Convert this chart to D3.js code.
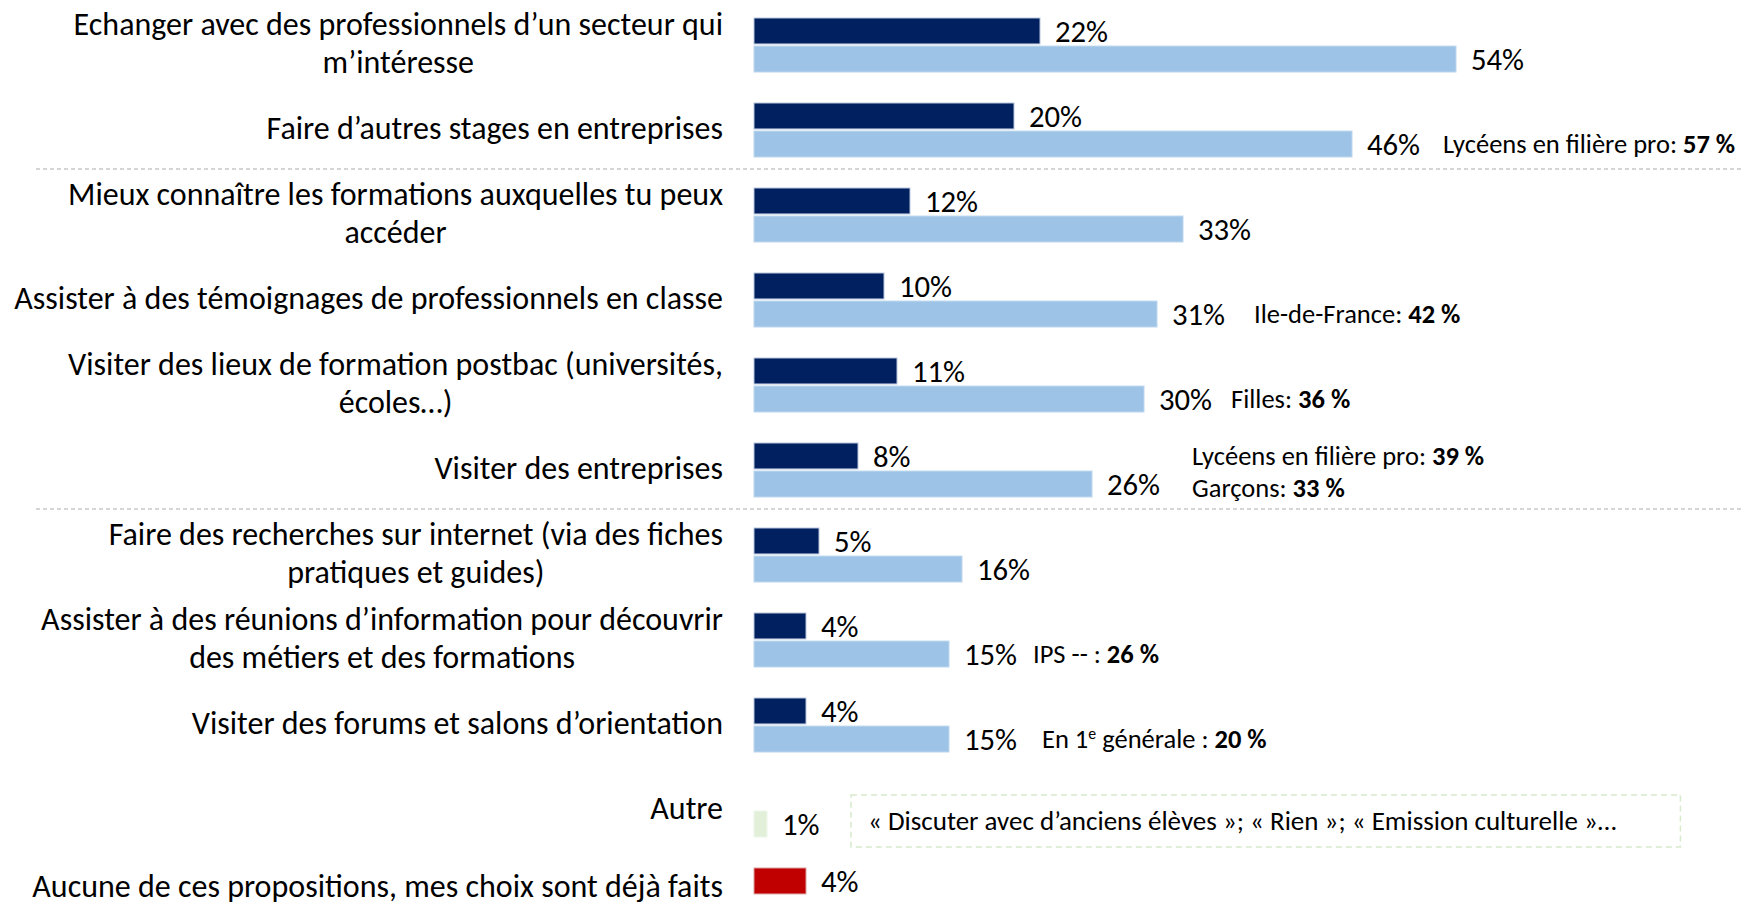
<!DOCTYPE html>
<html><head><meta charset="utf-8">
<script src="https://cdn.jsdelivr.net/npm/d3@7"></script>
<style>html,body{margin:0;padding:0;background:#fff;overflow:hidden}</style>
</head><body>
<svg id="chart" width="1742" height="907"></svg>
<script>
// ---------------- data ----------------
const categories = [
  "Echanger avec des professionnels d’un secteur qui\nm’intéresse",
  "Faire d’autres stages en entreprises",
  "Mieux connaître les formations auxquelles tu peux\naccéder",
  "Assister à des témoignages de professionnels en classe",
  "Visiter des lieux de formation postbac (universités,\nécoles…)",
  "Visiter des entreprises",
  "Faire des recherches sur internet (via des fiches\npratiques et guides)",
  "Assister à des réunions d’information pour découvrir\ndes métiers et des formations",
  "Visiter des forums et salons d’orientation",
  "Autre",
  "Aucune de ces propositions, mes choix sont déjà faits"
];
const firstChoice = [22, 20, 12, 10, 11, 8, 5, 4, 4, null, 4];
const allChoices  = [54, 46, 33, 31, 30, 26, 16, 15, 15, 1, null];
const separatorsAfter = [1, 5];
const annotationCats = [1, 3, 4, 5, 7, 8];
const annotationLines = [
  [[["Lycéens en filière pro: ", ""], ["57 %", "b"]]],
  [[["Ile-de-France: ", ""], ["42 %", "b"]]],
  [[["Filles: ", ""], ["36 %", "b"]]],
  [[["Lycéens en filière pro: ", ""], ["39 %", "b"]], [["Garçons: ", ""], ["33 %", "b"]]],
  [[["IPS -- : ", ""], ["26 %", "b"]]],
  [[["En 1", ""], ["e", "sup"], [" générale : ", ""], ["20 %", "b"]]]
];
const otherCat = 9;
const otherQuote = "« Discuter avec d’anciens élèves »; « Rien »; « Emission culturelle »…";

// ---------------- layout / style ----------------
const FONT = "Calibri, Carlito, Lato, sans-serif";
const annotationOffsets = [91, 97, 87, 100, 84, 93];
const svg = d3.select("#chart");

const x = d3.scaleLinear().domain([0, 76]).range([754, 1742]);
const y = d3.scaleBand().domain(d3.range(categories.length)).range([18, 922]).paddingInner(31 / 85).paddingOuter(0);
const ySub = d3.scaleBand().domain(["first", "all"]).range([0, y.bandwidth()]).paddingInner(0.075);

function colorFirst(i) { return i === 10 ? "#C00000" : "#002060"; }
function colorAll(i) { return i === otherCat ? "#E2F0D9" : "#9DC3E6"; }
function strokeFirst(i) { return i === 10 ? "#d9a0a0" : "#b8c6dc"; }
function strokeAll(i) { return i === otherCat ? "#eef6ea" : "#bdd7ee"; }

// font fitting (reference uses Calibri)
const probe = svg.append("text").style("font-family", FONT).style("font-size", "32px")
  .text("Assister à des témoignages de professionnels en classe");
const k = 709 / probe.node().getComputedTextLength();
probe.remove();
const fsCat = 32 * k, fsVal = 30.7 * k, fsNote = 26.5 * k, fsBox = 27 * k;

// separators
svg.append("g").selectAll("line").data(separatorsAfter).join("line")
  .attr("x1", 36).attr("x2", 1742)
  .attr("y1", d => y(d + 1) - 19).attr("y2", d => y(d + 1) - 19)
  .attr("stroke", "#c8c8c8").attr("stroke-width", 1.5).attr("stroke-dasharray", "4,3");

// "Autre" quote box layer (drawn below text)
const boxLayer = svg.append("g");

// bars
const firstData = firstChoice.map((v, i) => ({ i, v })).filter(d => d.v != null);
const allData = allChoices.map((v, i) => ({ i, v })).filter(d => d.v != null);

svg.append("g").selectAll("rect").data(firstData).join("rect")
  .attr("x", x(0)).attr("y", d => y(d.i) + ySub("first"))
  .attr("width", d => x(d.v) - x(0)).attr("height", ySub.bandwidth())
  .attr("fill", d => colorFirst(d.i)).attr("stroke", d => strokeFirst(d.i)).attr("stroke-width", 1);

svg.append("g").selectAll("rect").data(allData).join("rect")
  .attr("x", x(0)).attr("y", d => y(d.i) + ySub("all"))
  .attr("width", d => x(d.v) - x(0)).attr("height", ySub.bandwidth())
  .attr("fill", d => colorAll(d.i)).attr("stroke", d => strokeAll(d.i)).attr("stroke-width", 1);

// value labels
svg.append("g").selectAll("text").data(firstData).join("text")
  .attr("x", d => x(d.v) + 15).attr("y", d => y(d.i) + ySub("first") + ySub.bandwidth() / 2)
  .attr("dy", "0.35em").style("font-family", FONT).style("font-size", fsVal + "px").attr("fill", "#000")
  .text(d => d.v + "%");
svg.append("g").selectAll("text").data(allData).join("text")
  .attr("x", d => x(d.v) + 15).attr("y", d => y(d.i) + ySub("all") + ySub.bandwidth() / 2)
  .attr("dy", "0.35em").style("font-family", FONT).style("font-size", fsVal + "px").attr("fill", "#000")
  .text(d => d.v + "%");

// category labels (block right-aligned, lines centered)
const catG = svg.append("g");
categories.forEach((c, i) => {
  const lines = c.split("\n");
  const cy = y(i) + y.bandwidth() / 2 - (i === categories.length - 1 ? 9 : 2.5);
  const texts = lines.map((ln, j) => catG.append("text")
    .attr("y", cy + (j - (lines.length - 1) / 2) * 38)
    .attr("dy", "0.35em").attr("text-anchor", "middle")
    .style("font-family", FONT).style("font-size", fsCat + "px").attr("fill", "#000")
    .text(ln));
  const maxW = d3.max(texts, t => t.node().getComputedTextLength());
  texts.forEach(t => t.attr("x", 723 - maxW / 2));
});

// annotations
const annG = svg.append("g");
annotationCats.forEach((ci, a) => {
  const lines = annotationLines[a];
  const ax = x(allChoices[ci]) + annotationOffsets[a];
  lines.forEach((segs, j) => {
    let ly;
    if (lines.length === 1) ly = y(ci) + ySub("all") + ySub.bandwidth() / 2;
    else ly = y(ci) + y.bandwidth() / 2 + 2 + (j - (lines.length - 1) / 2) * 32;
    const t = annG.append("text").attr("x", ax).attr("y", ly).attr("dy", "0.35em")
      .style("font-family", FONT).style("font-size", fsNote + "px").attr("fill", "#000");
    segs.forEach(([txt, st]) => {
      const ts = t.append("tspan").text(txt);
      if (st === "b") ts.attr("font-weight", "bold");
      if (st === "sup") ts.attr("baseline-shift", "super").style("font-size", (fsNote * 0.6) + "px");
    });
  });
});

// "Autre" quote + dashed box
const boxY = y(otherCat) + 12;
const tx = x(allChoices[otherCat]) + 101;
const qt = svg.append("text").attr("x", tx).attr("y", y(otherCat) + ySub("all") + ySub.bandwidth() / 2 - 3)
  .attr("dy", "0.35em").style("font-family", FONT).style("font-size", fsBox + "px").attr("fill", "#000")
  .text(otherQuote);
const qw = qt.node().getComputedTextLength();
boxLayer.append("rect")
  .attr("x", tx - 17).attr("y", boxY).attr("width", qw + 17 + 64).attr("height", 52)
  .attr("fill", "none").attr("stroke", "#d7eacc").attr("stroke-width", 1.5).attr("stroke-dasharray", "6,4");
</script>
</body></html>
